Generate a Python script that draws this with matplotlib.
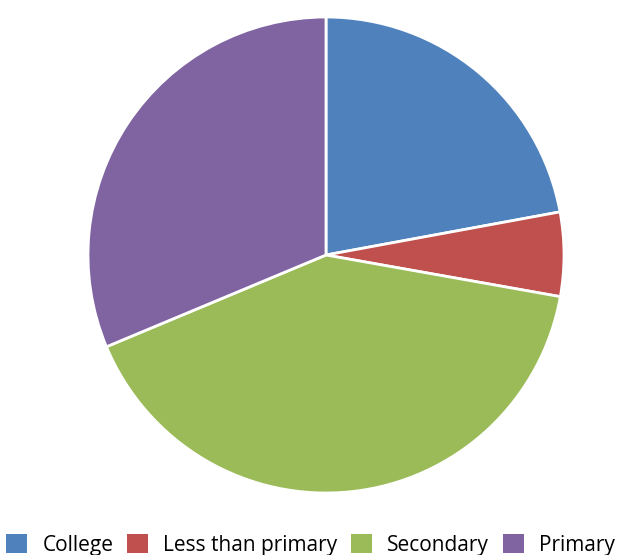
import matplotlib
matplotlib.use("Agg")
import matplotlib.pyplot as plt
from matplotlib.patches import Patch

# 교육 수준별 비율
labels = ['College', 'Less than primary', 'Secondary', 'Primary']
values = [22.1, 5.7, 40.9, 31.3]
colors = ['#4F81BD', '#C0504D', '#9BBB59', '#8064A2']

plt.rcParams['font.family'] = ['Open Sans', 'DejaVu Sans']

fig = plt.figure(figsize=(6.21, 5.55), dpi=100)
ax = fig.add_axes([88 / 621, 62 / 555, 476 / 621, 476 / 555])

ax.pie(values, colors=colors, startangle=90, counterclock=False,
       wedgeprops=dict(edgecolor='white', linewidth=2))
ax.set_xlim(-1, 1)
ax.set_ylim(-1, 1)
ax.set_aspect('equal')

handles = [Patch(facecolor=c, edgecolor='none') for c in colors]
fig.legend(handles, labels, loc='center', ncol=4, frameon=False,
           bbox_to_anchor=(0.5, 10 / 555), fontsize=15,
           handlelength=1.0, handleheight=1.0, handletextpad=0.75,
           columnspacing=0.65, borderaxespad=0)

fig.savefig('out.png', dpi=100)
